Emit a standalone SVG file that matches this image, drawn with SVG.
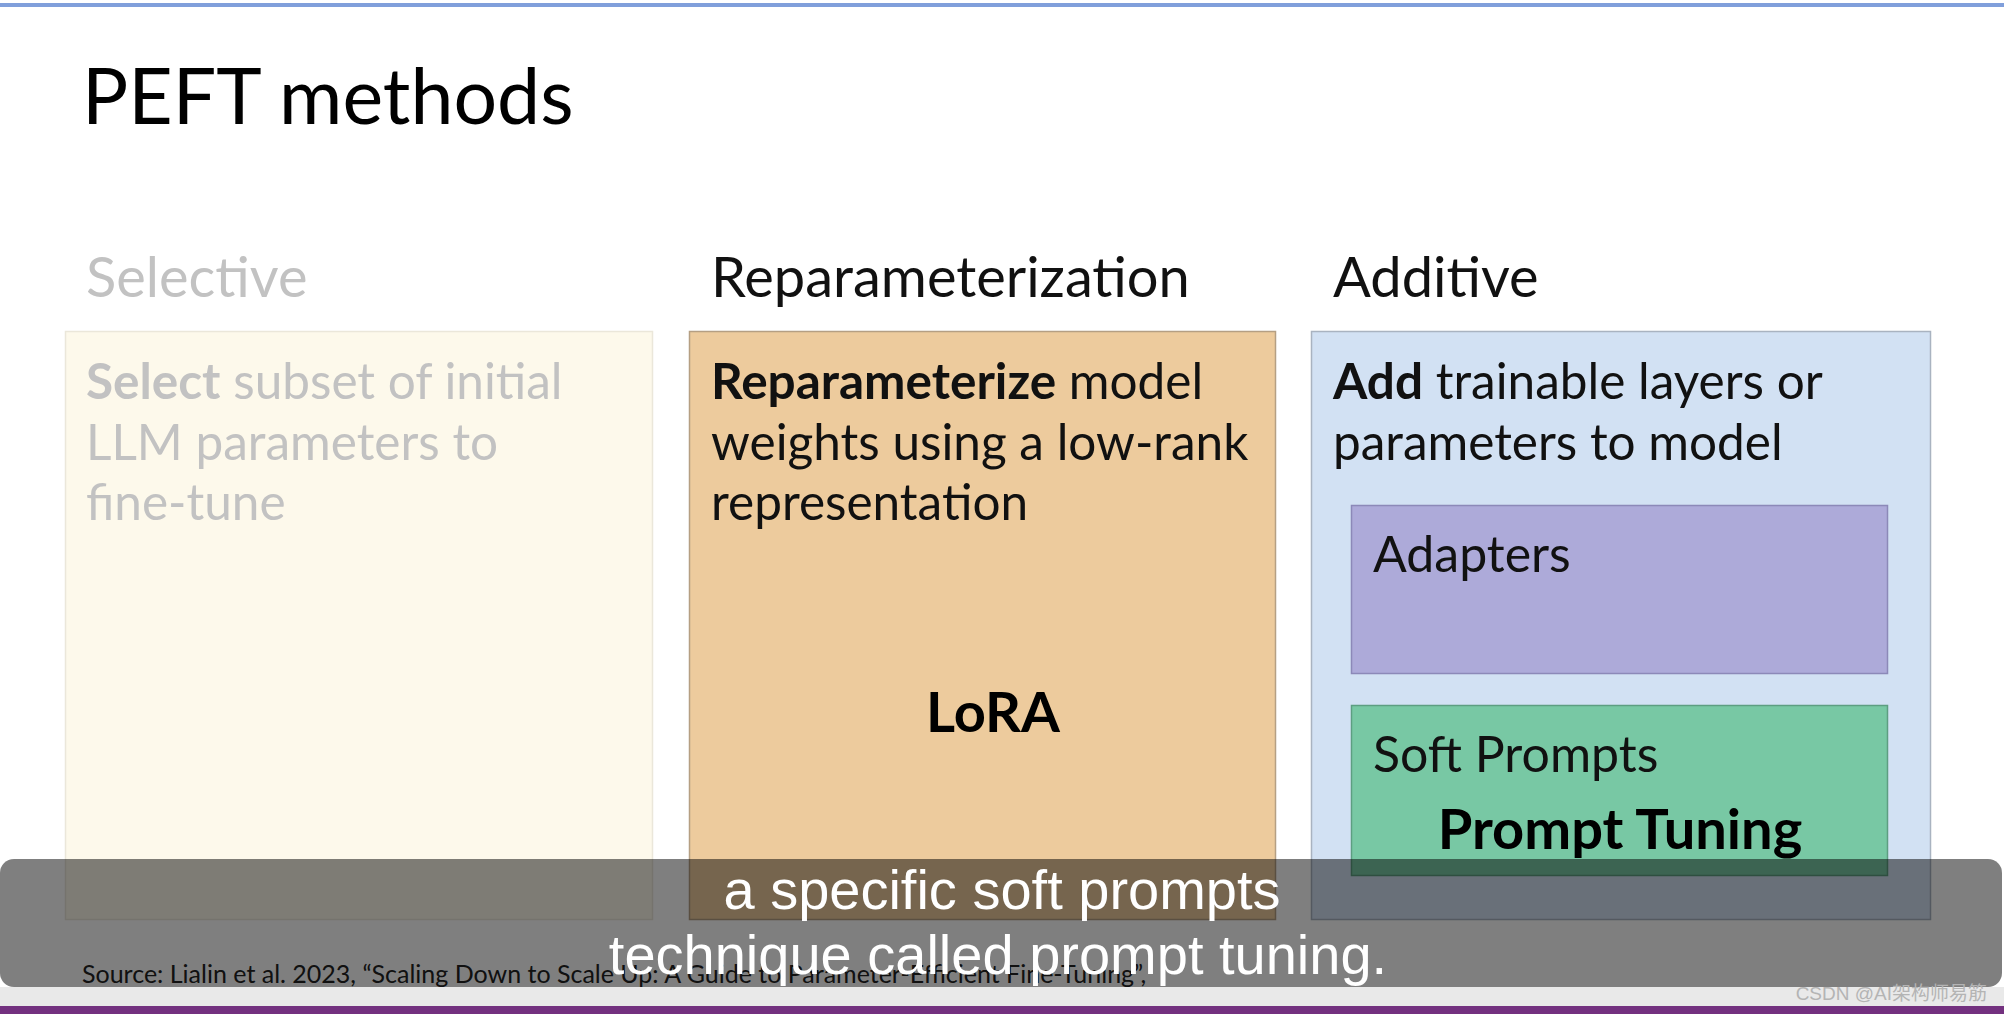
<svg xmlns="http://www.w3.org/2000/svg" width="2004" height="1014" viewBox="0 0 2004 1014">
<style>
  .lato { font-family: Lato, "Open Sans", "Liberation Sans", sans-serif; }
  .title { font-size: 77px; fill: #000; }
  .head { font-size: 56px; fill: #111; }
  .body { font-size: 49.5px; fill: #111; }
  .b { font-weight: bold; }
  .faded { fill: #c2c2c2; }
  .label { font-size: 56px; font-weight: bold; fill: #000; }
  .sub { font-size: 50px; fill: #111; }
  .cap { font-family: "Liberation Sans", Arial, sans-serif; font-size: 56px; fill: #fff; text-anchor: middle; }
</style>
<rect x="0" y="0" width="2004" height="1014" fill="#ffffff"/>
<rect x="0" y="3" width="2004" height="4" fill="#809fdb"/>
<text class="lato title" x="82" y="124">PEFT methods</text>

<g id="selective">
  <text class="lato head faded" x="86" y="297">Selective</text>
  <rect x="65.5" y="331.5" width="587" height="588" fill="#fdf9eb" stroke="#ebe7da" stroke-width="1.5"/>
  <text class="lato body faded" x="86" y="399"><tspan class="b">Select</tspan> subset of initial</text>
  <text class="lato body faded" x="86" y="460">LLM parameters to</text>
  <text class="lato body faded" x="86" y="520">fine-tune</text>
</g>

<g id="reparameterization">
  <text class="lato head" x="711" y="297" font-size="57">Reparameterization</text>
  <rect x="689.5" y="331.5" width="586" height="588" fill="#edcb9d" stroke="#b59f83" stroke-width="1.5"/>
  <text class="lato body" x="711" y="399"><tspan class="b">Reparameterize</tspan> model</text>
  <text class="lato body" x="711" y="460">weights using a low-rank</text>
  <text class="lato body" x="711" y="520">representation</text>
  <text class="lato label" x="993" y="732" text-anchor="middle">LoRA</text>
</g>

<g id="additive">
  <text class="lato head" x="1333" y="297">Additive</text>
  <rect x="1311.5" y="331.5" width="619" height="588" fill="#d2e1f3" stroke="#a9b3c0" stroke-width="1.5"/>
  <text class="lato body" x="1333" y="399"><tspan class="b">Add</tspan> trainable layers or</text>
  <text class="lato body" x="1333" y="460">parameters to model</text>
</g>

<g id="adapters">
  <rect x="1351.5" y="505.5" width="536" height="168" fill="#adaad9" stroke="#8c89b8" stroke-width="1.5"/>
  <text class="lato sub" x="1373" y="572">Adapters</text>
</g>

<g id="soft-prompts">
  <rect x="1351.5" y="705.5" width="536" height="170" fill="#78c8a4" stroke="#5d9e81" stroke-width="1.5"/>
  <text class="lato sub" x="1373" y="772">Soft Prompts</text>
  <text class="lato label" x="1620" y="849" text-anchor="middle">Prompt Tuning</text>
</g>

<g id="connectors"></g>

<text class="lato" x="82" y="983" font-size="25" fill="#222">Source: Lialin et al. 2023, “Scaling Down to Scale Up: A Guide to Parameter-Efficient Fine-Tuning”,</text>

<rect x="0" y="987" width="2004" height="19" fill="#e9e9e9"/>
<rect x="0" y="1006" width="2004" height="8" fill="#73317f"/>

<g id="caption">
  <rect x="0" y="859" width="2002" height="128" rx="14" fill="#000" fill-opacity="0.5"/>
  <text class="cap" x="1002" y="909">a specific soft prompts</text>
  <text class="cap" x="998" y="974">technique called prompt tuning.</text>
</g>

<text x="1987" y="1000" text-anchor="end" font-family="'Liberation Sans', 'Noto Sans CJK SC', sans-serif" font-size="19" fill="#b4b4b4">CSDN @AI架构师易筋</text>
</svg>
